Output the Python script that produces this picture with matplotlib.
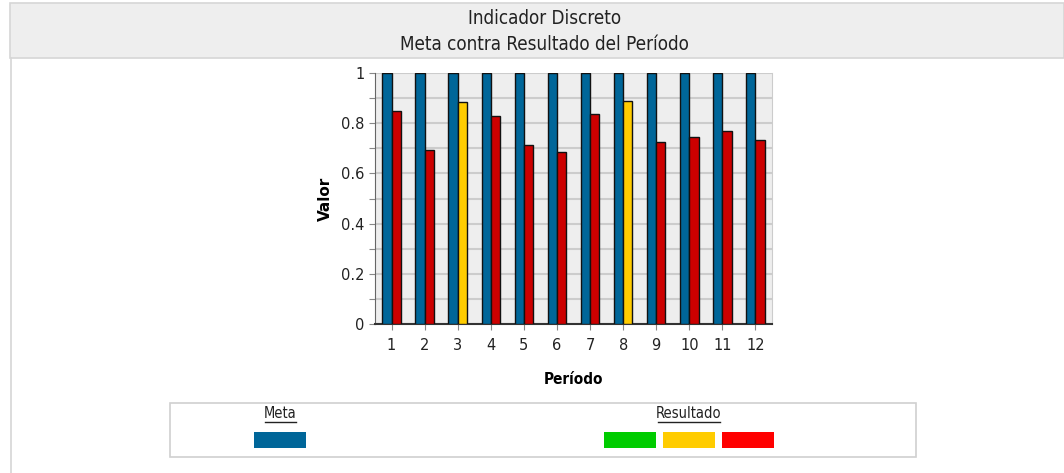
import matplotlib.pyplot as plt
import numpy as np
from matplotlib.patches import Rectangle
from matplotlib.lines import Line2D

periodos = ['1', '2', '3', '4', '5', '6', '7', '8', '9', '10', '11', '12']
meta = [1, 1, 1, 1, 1, 1, 1, 1, 1, 1, 1, 1]
resultado = [0.850, 0.692, 0.883, 0.829, 0.712, 0.685, 0.837, 0.890, 0.726, 0.746, 0.768, 0.733]
estado = ['r', 'r', 'y', 'r', 'r', 'r', 'r', 'y', 'r', 'r', 'r', 'r']

c_meta = '#006699'
c_res = {'g': '#00CC00', 'y': '#FFCC00', 'r': '#CC0000'}
leg_cols = ['#00CC00', '#FFCC00', '#FF0000']

W, H = 1064, 473
fig = plt.figure(figsize=(W / 100, H / 100), dpi=100)
fig.patch.set_facecolor('white')

def px(x0, y0, w, h):
    # pixel box (top-left origin) -> figure fraction
    return [x0 / W, 1 - (y0 + h) / H, w / W, h / H]

tf = dict(family='DejaVu Sans', fontstretch='condensed', color='#222222')

# header band
fig.patches.append(Rectangle((10 / W, 1 - 58 / H), (W - 10) / W, 55 / H, transform=fig.transFigure,
                             facecolor='#EEEEEE', edgecolor='#D6D6D6', lw=1.2))
fig.lines.append(Line2D([10.5 / W, 10.5 / W], [0, 1 - 58 / H], transform=fig.transFigure,
                        color='#D6D6D6', lw=1.2))
fig.text(0.512, 1 - 18 / H, 'Indicador Discreto', ha='center', va='center', fontsize=13.5, **tf)
fig.text(0.512, 1 - 45 / H, 'Meta contra Resultado del Período', ha='center', va='center', fontsize=13.5, **tf)

ax = fig.add_axes(px(375, 73, 397, 251))
ax.set_facecolor('#EEEEEE')
x = np.arange(1, len(periodos) + 1)
bw = 0.28
ax.bar(x - bw / 2, meta, bw, color=c_meta, edgecolor='#111111', lw=1, zorder=3)
ax.bar(x + bw / 2, resultado, bw, color=[c_res[e] for e in estado], edgecolor='#111111', lw=1, zorder=3)

ax.set_xlim(0.5, 12.5)
ax.set_ylim(0, 1)
ax.set_xticks(x)
ax.set_xticklabels(periodos)
yt = np.round(np.arange(0, 1.01, 0.1), 1)
ax.set_yticks(yt)
ax.set_yticklabels(['0' if v == 0 else ('1' if v == 1 else (f'{v:g}' if round(v * 10) % 2 == 0 else '')) for v in yt])
ax.grid(axis='y', color='#CCCCCC', lw=1.5, zorder=0)
ax.tick_params(axis='both', colors='#888888', labelcolor='#222222', labelsize=10.5, length=4)
ax.tick_params(axis='x', pad=6)
ax.spines['top'].set_visible(False)
ax.spines['right'].set_color('#CCCCCC')
ax.spines['left'].set_color('#666666')
ax.spines['bottom'].set_color('#333333')
ax.spines['bottom'].set_linewidth(1.5)
ax.set_ylabel('Valor', fontsize=11, fontweight='bold', labelpad=6)
ax.set_xlabel('Período', fontsize=11, fontweight='bold', labelpad=14, fontstretch='condensed')

# legend box
fig.patches.append(Rectangle((170 / W, 1 - 457 / H), 746 / W, 54 / H, transform=fig.transFigure,
                             facecolor='white', edgecolor='#D0D0D0', lw=1.2))
fig.text(280 / W, 1 - 413 / H, 'Meta', ha='center', va='center', fontsize=10.5, **tf)
fig.lines.append(Line2D([265 / W, 296 / W], [1 - 422 / H] * 2, transform=fig.transFigure, color='#222222', lw=1))
fig.text(689 / W, 1 - 413 / H, 'Resultado', ha='center', va='center', fontsize=10.5, **tf)
fig.lines.append(Line2D([658 / W, 720 / W], [1 - 422 / H] * 2, transform=fig.transFigure, color='#222222', lw=1))
fig.patches.append(Rectangle((254 / W, 1 - 448 / H), 52 / W, 16 / H, transform=fig.transFigure,
                             facecolor=c_meta, edgecolor='none'))
for i, c in enumerate(leg_cols):
    x0 = 604 + i * 59
    fig.patches.append(Rectangle((x0 / W, 1 - 448 / H), 52 / W, 16 / H, transform=fig.transFigure,
                                 facecolor=c, edgecolor='none'))

plt.savefig('out.png', dpi=100)
